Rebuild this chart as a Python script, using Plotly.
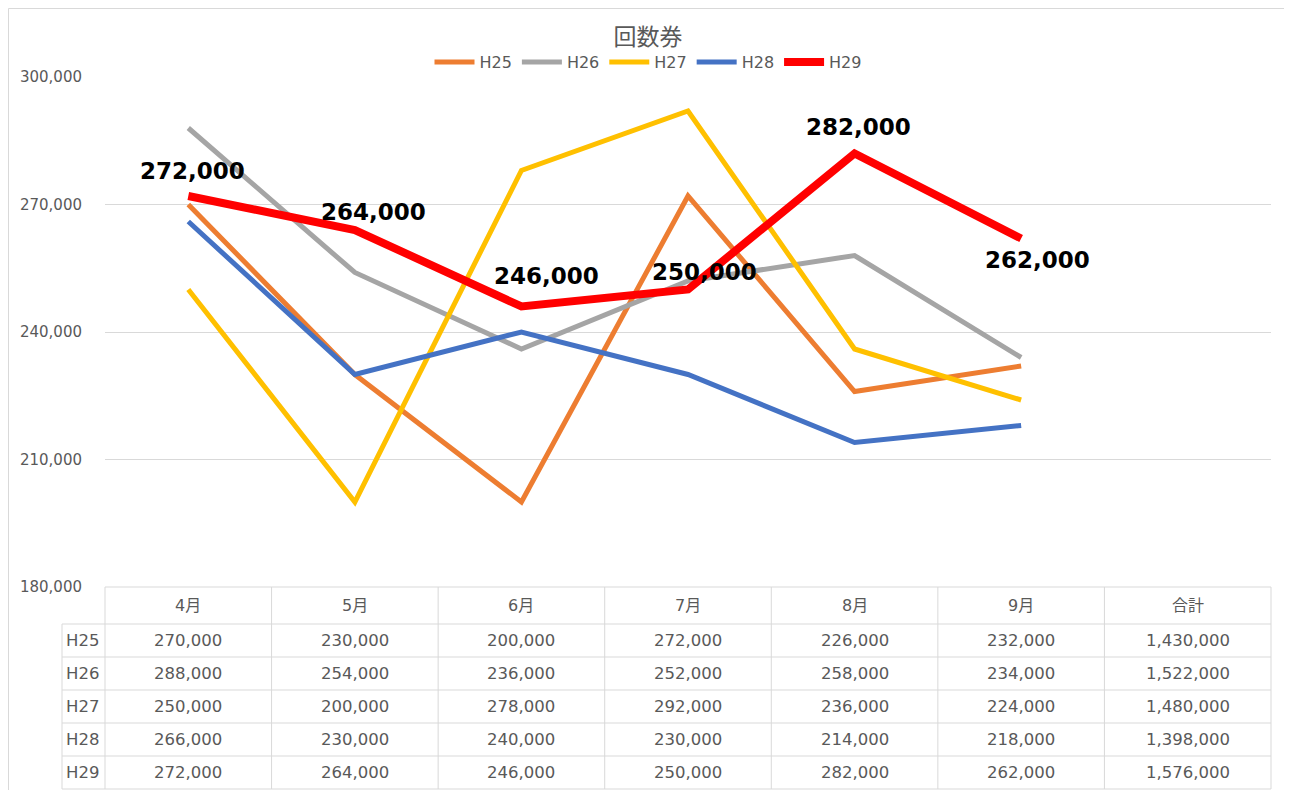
import plotly.graph_objects as go

months = ["4月", "5月", "6月", "7月", "8月", "9月"]
columns = months + ["合計"]
series_names = ["H25", "H26", "H27", "H28", "H29"]
h25 = [270000, 230000, 200000, 272000, 226000, 232000]
h26 = [288000, 254000, 236000, 252000, 258000, 234000]
h27 = [250000, 200000, 278000, 292000, 236000, 224000]
h28 = [266000, 230000, 240000, 230000, 214000, 218000]
h29 = [272000, 264000, 246000, 250000, 282000, 262000]
series_values = [h25, h26, h27, h28, h29]
y_ticks = [180000, 210000, 240000, 270000, 300000]

colors = ["#ED7D31", "#A5A5A5", "#FFC000", "#4472C4", "#FF0000"]
widths = [5, 5, 5, 5, 8]

OFF = 8  # browser body margin
W, H = 1292 - OFF, 790 - OFF
L, R, T, B = 105, 1271, 77, 587  # screenshot pixel coords of plot area


def py(y):
    return (B - y) / (B - T)


def px(x):
    return (x - L) / (R - L)


FONT = "DejaVu Sans, Noto Sans CJK JP, sans-serif"
TXT = "#595959"
GRID = "#D9D9D9"

fig = go.Figure()
for name, vals, c, w in zip(series_names, series_values, colors, widths):
    fig.add_trace(go.Scatter(
        x=list(range(len(months))), y=vals, name=name, mode="lines",
        line=dict(color=c, width=w), hoverinfo="x+y+name"))

# data labels for H29
label_shifts = [(4, 25), (19, 18), (25, 31), (16, 18), (4, 27), (16, -21)]
for i, v in enumerate(h29):
    dx, dy = label_shifts[i]
    fig.add_annotation(x=i, y=v, xref="x", yref="y", text=f"<b>{v:,}</b>",
                       showarrow=False, xshift=dx, yshift=dy,
                       xanchor="center", yanchor="middle",
                       font=dict(family=FONT, size=23, color="#000000"))

shapes = []
# outer border
shapes.append(dict(type="rect", xref="paper", yref="paper",
                   x0=px(8.5), x1=px(1287), y0=py(795), y1=py(8.5),
                   line=dict(color="#D9D9D9", width=1), layer="below"))

row_lines = [587, 624, 657, 690, 723, 756, 789]
col_bounds = [L + (R - L) * k / len(columns) for k in range(len(columns) + 1)]
for j, yy in enumerate(row_lines):
    x0 = L if j == 0 else 62
    shapes.append(dict(type="line", xref="paper", yref="paper",
                       x0=px(x0), x1=px(R), y0=py(yy), y1=py(yy),
                       line=dict(color=GRID, width=1)))
shapes.append(dict(type="line", xref="paper", yref="paper",
                   x0=px(62), x1=px(62), y0=py(624), y1=py(789),
                   line=dict(color=GRID, width=1)))
for xx in col_bounds:
    shapes.append(dict(type="line", xref="paper", yref="paper",
                       x0=px(xx), x1=px(xx), y0=py(587), y1=py(789),
                       line=dict(color=GRID, width=1)))

# header cells
for k, col in enumerate(columns):
    fig.add_annotation(x=k, y=py((587 + 624) / 2), xref="x", yref="paper",
                       text=col, showarrow=False,
                       xanchor="center", yanchor="middle",
                       font=dict(family=FONT, size=16, color=TXT))
# body cells
for r, (name, vals) in enumerate(zip(series_names, series_values)):
    yc = py((row_lines[r + 1] + row_lines[r + 2]) / 2)
    fig.add_annotation(x=px(64), y=yc, xref="paper", yref="paper", text=name,
                       showarrow=False, xanchor="left", yanchor="middle",
                       font=dict(family=FONT, size=16.5, color=TXT))
    for k, v in enumerate(vals + [sum(vals)]):
        fig.add_annotation(x=k, y=yc, xref="x", yref="paper", text=f"{v:,}",
                           showarrow=False, xanchor="center", yanchor="middle",
                           font=dict(family=FONT, size=16.5, color=TXT))

fig.update_layout(
    width=W, height=H,
    margin=dict(l=L - OFF, r=W - (R - OFF), t=T - OFF, b=H - (B - OFF), pad=0),
    paper_bgcolor="white", plot_bgcolor="white",
    font=dict(family=FONT, color=TXT),
    title=dict(text="回数券", x=(648 - OFF) / W, xanchor="center",
               y=1 - (37 - OFF) / H, yanchor="middle",
               font=dict(family=FONT, size=23, color=TXT)),
    legend=dict(orientation="h", x=px(648), xanchor="center", y=py(62),
                yanchor="middle", font=dict(family=FONT, size=16, color=TXT),
                itemwidth=40, bgcolor="rgba(0,0,0,0)", tracegroupgap=0),
    xaxis=dict(range=[-0.5, len(columns) - 0.5], showticklabels=False,
               showgrid=False, zeroline=False, showline=False, fixedrange=True),
    yaxis=dict(range=[180000, 300000], tickvals=y_ticks,
               ticktext=[f"{v:,}" for v in y_ticks], showgrid=True,
               gridcolor=GRID, gridwidth=1, zeroline=False, showline=False,
               ticks="", ticklabelstandoff=22,
               tickfont=dict(family=FONT, size=15, color=TXT)),
    shapes=shapes,
)

fig.write_html("out.html")
